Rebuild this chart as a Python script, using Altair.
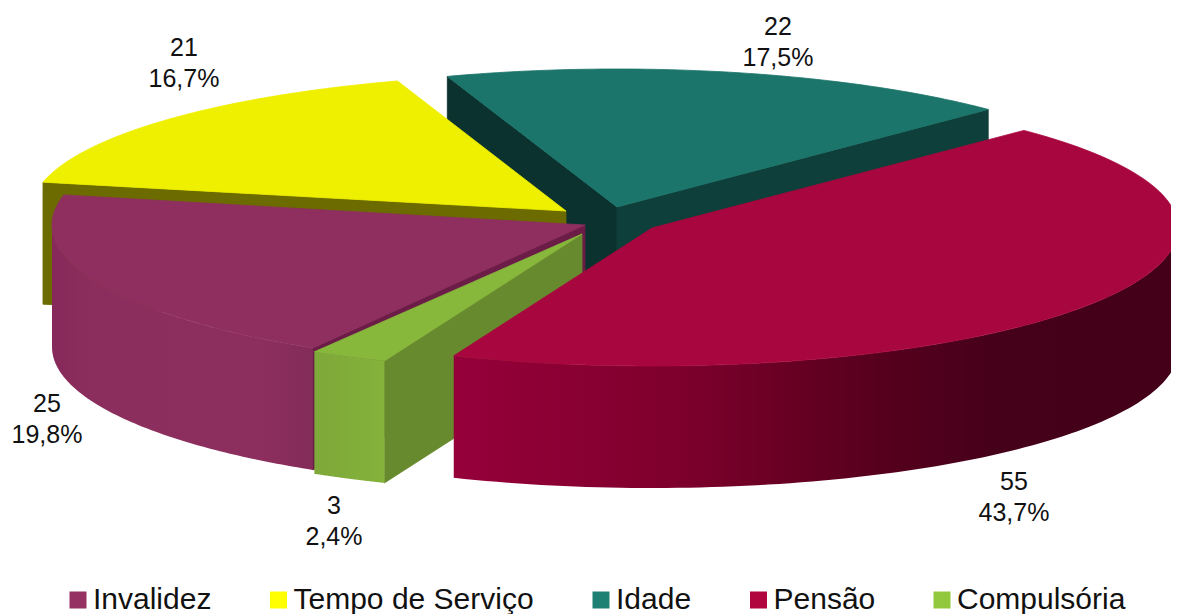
import math
import altair as alt
import pandas as pd

categories = ["Invalidez", "Tempo de Serviço", "Idade", "Pensão", "Compulsória"]
counts = [25, 21, 22, 55, 3]
percent_labels = ["19,8%", "16,7%", "17,5%", "43,7%", "2,4%"]
legend_colors = ["#953163", "#ffff00", "#1c8072", "#b0053f", "#92c83e"]

# layout of the exploded, tilted pie (pixels of the picture)
START_ANGLE = 45.0
DEPTH = 122
APEX = {"Idade": (617, 207), "Tempo de Serviço": (566, 211), "Pensão": (652, 228),
        "Invalidez": (585, 225), "Compulsória": (582, 234)}
RADII = {"Idade": (525, 138), "Tempo de Serviço": (535, 137), "Pensão": (526, 138),
         "Invalidez": (533, 143), "Compulsória": (524, 137)}
# small perspective corrections to the first edge of a slice (degrees)
EDGE_TWEAK = {"Tempo de Serviço": (0, 0.5), "Idade": (1.0, 0)}
LABEL_POS = {"Idade": (778, 15), "Tempo de Serviço": (184, 36), "Pensão": (1014, 470),
             "Invalidez": (47, 392), "Compulsória": (334, 494)}

# angular span of each slice, clockwise from the start angle
spans = {}
a0 = START_ANGLE
total = sum(counts)
for name in ["Pensão", "Compulsória", "Invalidez", "Tempo de Serviço", "Idade"]:
    a1 = a0 - counts[categories.index(name)] / total * 360
    tw = EDGE_TWEAK.get(name, (0, 0))
    spans[name] = (a0 + tw[0], a1 + tw[1])
    a0 = a1


def rim(name, t, dz=0):
    cx, cy = APEX[name]
    rx, ry = RADII[name]
    r = math.radians(t)
    return [cx + rx * math.cos(r), cy - ry * math.sin(r) + dz]


def arc(name, t0, t1, dz=0, n=90):
    return [rim(name, t0 + (t1 - t0) * i / n, dz) for i in range(n + 1)]


def top_face(name):
    t0, t1 = spans[name]
    return [list(APEX[name])] + arc(name, t0, t1)


def rim_face(name, t0, t1):
    return arc(name, t0, t1) + arc(name, t1, t0, DEPTH)


def radial_face(name, t):
    cx, cy = APEX[name]
    p = rim(name, t)
    return [[cx, cy], p, [p[0], p[1] + DEPTH], [cx, cy + DEPTH]]


def grad(*stops):
    return {"gradient": "linear", "x1": 0, "x2": 1, "y1": 0, "y2": 0,
            "stops": [{"offset": o, "color": c} for o, c in stops]}


s = spans
faces = [
    (radial_face("Idade", s["Idade"][0]), "#0b322f"),
    (radial_face("Idade", s["Idade"][1]), "#0f3f3a"),
    (top_face("Idade"), "#1c756b"),
    (radial_face("Tempo de Serviço", s["Tempo de Serviço"][0]), "#6b6b00"),
    (top_face("Tempo de Serviço"), "#efef00"),
    (rim_face("Invalidez", -180, s["Invalidez"][0]),
     grad((0, "#86295a"), (0.15, "#8c2e5d"), (0.8, "#8d2f5e"), (1, "#832b59"))),
    (radial_face("Invalidez", s["Invalidez"][0]), "#6b1d47"),
    (top_face("Invalidez"), "#8f2f5f"),
    (radial_face("Compulsória", s["Compulsória"][0]), "#688a2e"),
    (rim_face("Compulsória", s["Compulsória"][0], s["Compulsória"][1]),
     grad((0, "#7ea839"), (1, "#84b23b"))),
    (top_face("Compulsória"), "#87b83c"),
    (rim_face("Pensão", s["Pensão"][1], 0),
     grad((0, "#96003a"), (0.3, "#7f002c"), (0.6, "#55001d"), (0.76, "#45001a"), (1, "#430018"))),
    (top_face("Pensão"), "#a8063e"),
]

PROJ = dict(type="identity", scale=1, translate=[-8, -8])
layers = []
for poly, fill in faces:
    feature = {"type": "Feature", "properties": {},
               "geometry": {"type": "Polygon", "coordinates": [poly + [poly[0]]]}}
    props = dict(fill=fill)
    if isinstance(fill, str):
        props.update(stroke=fill, strokeWidth=0.8)
    layers.append(alt.Chart(alt.Data(values=[feature])).mark_geoshape(**props).project(**PROJ))

labels = pd.DataFrame({
    "text": [f"{c}\n{p}" for c, p in zip(counts, percent_labels)],
    "x": [LABEL_POS[c][0] - 8 for c in categories],
    "y": [LABEL_POS[c][1] - 8 for c in categories],
})
layers.append(
    alt.Chart(labels).mark_text(fontSize=25, font="Liberation Sans", color="#111111", align="center",
                                baseline="top", lineBreak="\n", lineHeight=31)
    .encode(x=alt.X("x:Q", scale=None, axis=None), y=alt.Y("y:Q", scale=None, axis=None), text="text:N")
)

legend_df = pd.DataFrame({"categoria": categories})
layers.append(
    alt.Chart(legend_df).mark_square(opacity=0).encode(
        x=alt.value(0), y=alt.value(0),
        color=alt.Color("categoria:N", sort=None,
                        scale=alt.Scale(domain=categories, range=legend_colors),
                        legend=alt.Legend(title=None, orient="none", legendX=55, legendY=577,
                                          direction="horizontal", columns=5, columnPadding=51.5,
                                          symbolType="square", symbolSize=289, symbolOpacity=1,
                                          symbolStrokeWidth=0, labelFontSize=30, labelFont="Liberation Sans",
                                          labelColor="#111111", labelOffset=0, labelLimit=400,
                                          padding=0, offset=0))
    )
)

chart = alt.layer(*layers).properties(
    width=1163, height=606, padding=0, autosize=alt.AutoSizeParams(type="none"),
    background="white",
).configure_view(stroke=None)

chart.save("out.html", embed_options={"renderer": "svg", "actions": False})
